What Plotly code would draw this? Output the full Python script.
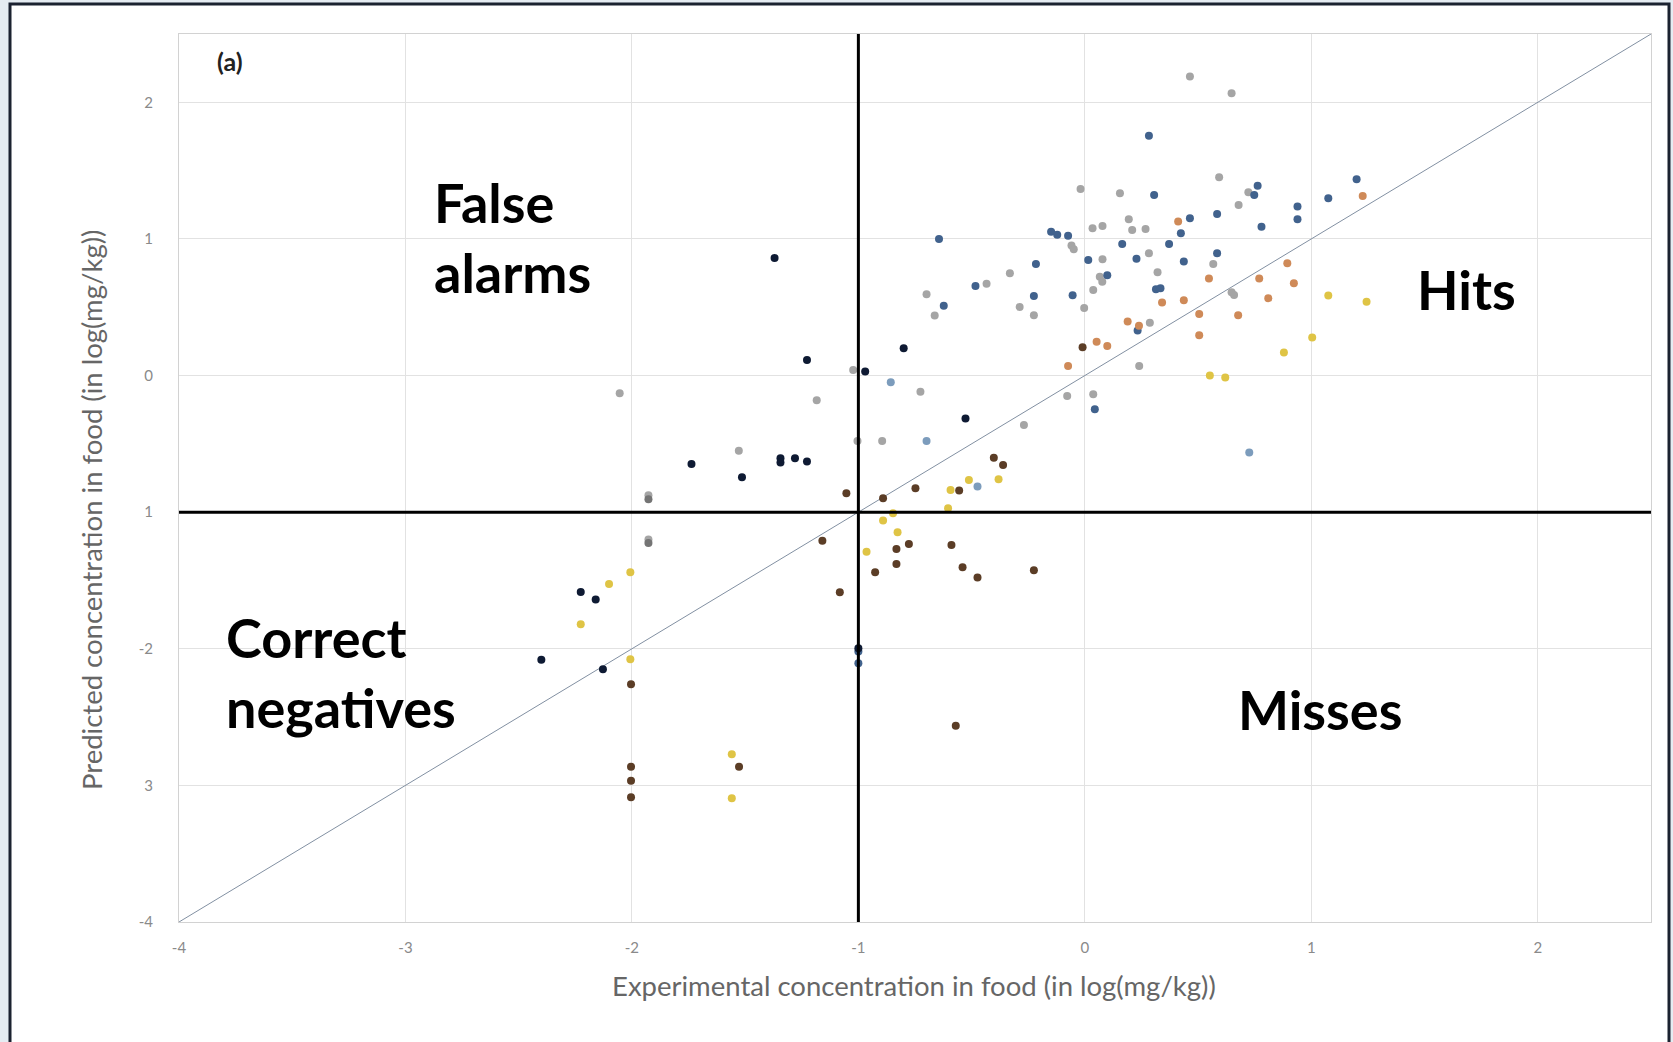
import plotly.graph_objects as go

# ---------------- data (log10 mg/kg) ----------------
navy_x = [-1.37, -1.227, -0.97, -0.80, -0.527, -1.737, -1.344, -1.344, -1.28, -1.227,
          -1.514, -2.226, -2.16, -2.40, -2.128, -1.0]
navy_y = [0.86, 0.114, 0.03, 0.20, -0.315, -0.647, -0.605, -0.637, -0.605, -0.63,
          -0.745, -1.584, -1.64, -2.08, -2.15, -1.996]

blue_x = [-0.644, -0.623, -0.483, -0.216, -0.225, -0.054, -0.149, -0.122, -0.074, 0.015,
          0.099, 0.283, 0.306, 0.763, 0.748, 1.2, 1.075, 0.939, 0.939, 0.78,
          0.584, 0.464, 0.424, 0.372, 0.165, 0.228, 0.437, 0.584, 0.314, 0.334,
          0.233, 0.044, -1.0, -1.0]
blue_y = [1.0, 0.51, 0.656, 0.817, 0.583, 0.588, 1.053, 1.03, 1.024, 0.846,
          0.734, 1.756, 1.322, 1.39, 1.322, 1.437, 1.298, 1.237, 1.144, 1.09,
          1.183, 1.151, 1.042, 0.963, 0.963, 0.854, 0.834, 0.895, 0.632, 0.639,
          0.329, -0.247, -2.02, -2.106]

lightblue_x = [-0.857, -0.699, -0.474, 0.726]
lightblue_y = [-0.05, -0.479, -0.813, -0.564]

grey_x = [-0.019, 0.034, 0.078, -0.059, -0.049, 0.078, -0.331, 0.066, 0.077, -0.434,
          -0.699, -0.663, -0.288, -0.225, 0.037, -0.003, -0.726, -0.078, 0.037, -0.269,
          0.464, 0.648, 0.155, 0.593, 0.722, 0.679, 0.194, 0.209, 0.268, 0.283,
          0.567, 0.321, 0.648, 0.659, 0.287, 0.24, -1.023, -2.054, -1.184, -1.004,
          -0.895, -1.528, -1.927, -1.927]
grey_y = [1.366, 1.078, 1.095, 0.951, 0.925, 0.851, 0.749, 0.724, 0.687, 0.671,
          0.595, 0.439, 0.502, 0.441, 0.627, 0.495, -0.118, -0.149, -0.137, -0.362,
          2.188, 2.067, 1.334, 1.452, 1.342, 1.249, 1.144, 1.066, 1.073, 0.895,
          0.817, 0.756, 0.61, 0.59, 0.387, 0.07, 0.04, -0.13, -0.18, -0.48,
          -0.48, -0.55, -0.876, -1.20]

darkgrey_x = [-1.927, -1.927]
darkgrey_y = [-0.905, -1.225]

orange_x = [0.052, 0.099, -0.074, 1.227, 0.412, 0.548, 0.894, 0.923, 0.77, 0.81,
            0.677, 0.341, 0.437, 0.505, 0.505, 0.189, 0.239]
orange_y = [0.248, 0.217, 0.07, 1.315, 1.127, 0.71, 0.822, 0.676, 0.71, 0.566,
            0.441, 0.534, 0.551, 0.451, 0.295, 0.395, 0.365]

yellow_x = [1.075, 1.244, 1.004, 0.879, 0.552, 0.62, -0.512, -0.381, -0.593, -0.604,
            -0.847, -0.891, -0.827, -0.964, -2.101, -2.007, -2.226, -2.007, -1.559, -1.559]
yellow_y = [0.585, 0.541, 0.278, 0.168, 0.0, -0.015, -0.764, -0.759, -0.837, -0.972,
            -1.008, -1.062, -1.147, -1.29, -1.525, -1.44, -1.82, -2.077, -2.772, -3.095]

brown_x = [-0.01, -1.053, -0.891, -0.748, -0.555, -0.402, -0.361, -1.159, -0.832, -0.832,
           -0.926, -0.777, -0.589, -0.54, -0.474, -0.225, -1.082, -2.004, -2.004, -2.004,
           -2.004, -1.527, -0.57]
brown_y = [0.207, -0.862, -0.898, -0.825, -0.842, -0.601, -0.654, -1.21, -1.27, -1.38,
           -1.44, -1.233, -1.24, -1.404, -1.479, -1.426, -1.586, -2.26, -2.863, -2.966,
           -3.087, -2.863, -2.563]

AXIS_MIN, AXIS_MAX = -4, 2.5
THRESHOLD = -1
tick_vals = [-4, -3, -2, -1, 0, 1, 2]
x_tick_text = ["-4", "-3", "-2", "-1", "0", "1", "2"]
y_tick_text = ["-4", "3", "-2", "1", "0", "1", "2"]

# ---------------- figure ----------------
W, H = 1673, 1042
L, R, T, B = 179, 22, 34, 120
PW, PH = W - L - R, H - T - B


def px(x):
    return (x - L) / PW


def py(y):
    return (H - B - y) / PH


FONT = "Lato, 'Open Sans', sans-serif"

fig = go.Figure()

# 1:1 line
fig.add_trace(go.Scatter(x=[AXIS_MIN, AXIS_MAX], y=[AXIS_MIN, AXIS_MAX], mode="lines",
                         line=dict(color="#8290a2", width=1), hoverinfo="skip"))

series = [
    (grey_x, grey_y, "#a5a5a5"),
    (darkgrey_x, darkgrey_y, "#747474"),
    (lightblue_x, lightblue_y, "#7c9cbc"),
    (blue_x, blue_y, "#41628d"),
    (orange_x, orange_y, "#cf8a58"),
    (yellow_x, yellow_y, "#dfc445"),
    (brown_x, brown_y, "#5b3d26"),
    (navy_x, navy_y, "#0e1a33"),
]
for sx, sy, col in series:
    fig.add_trace(go.Scatter(x=sx, y=sy, mode="markers",
                             marker=dict(size=8, color=col, line=dict(width=0))))

# threshold lines
fig.add_shape(type="line", xref="x", yref="y", x0=THRESHOLD, x1=THRESHOLD,
              y0=AXIS_MIN, y1=AXIS_MAX, line=dict(color="black", width=3), layer="above")
fig.add_shape(type="line", xref="x", yref="y", x0=AXIS_MIN, x1=AXIS_MAX,
              y0=THRESHOLD, y1=THRESHOLD, line=dict(color="black", width=3), layer="above")

# outer frame
fig.add_shape(type="rect", xref="paper", yref="paper", x0=px(10), x1=px(1669),
              y0=py(1080), y1=py(4), line=dict(color="#1b2230", width=3),
              fillcolor="white", layer="below")

ann_font = dict(family=FONT, size=54, color="black")
labels = [
    ("<b>False<br>alarms</b>", 432, 237),
    ("<b>Correct<br>negatives</b>", 224, 672),
    ("<b>Hits</b>", 1415, 289),
    ("<b>Misses</b>", 1236, 709),
]
for txt, xx, yy in labels:
    fig.add_annotation(text=txt, x=px(xx), y=py(yy), xref="paper", yref="paper",
                       xanchor="left", yanchor="middle", showarrow=False,
                       align="left", font=ann_font)
fig.add_annotation(text="<b>(a)</b>", x=px(215), y=py(61), xref="paper", yref="paper",
                   xanchor="left", yanchor="middle", showarrow=False,
                   font=dict(family=FONT, size=25, color="#222222"))

# axis titles
title_font = dict(family=FONT, size=27.5, color="#666666")
fig.add_annotation(text="Experimental concentration in food (in log(mg/kg))",
                   x=px(914), y=py(985), xref="paper", yref="paper",
                   xanchor="center", yanchor="middle", showarrow=False, font=title_font)
fig.add_annotation(text="Predicted concentration in food (in log(mg/kg))",
                   x=px(91), y=py(510), xref="paper", yref="paper", textangle=-90,
                   xanchor="center", yanchor="middle", showarrow=False, font=title_font)

axis_common = dict(range=[AXIS_MIN, AXIS_MAX], tickvals=tick_vals, showgrid=True,
                   gridcolor="#e2e2e2", gridwidth=1, zeroline=False, showline=True,
                   linecolor="#d2d2d2", linewidth=1, mirror=True, ticks="",
                   tickfont=dict(family=FONT, size=15, color="#8a8a8a"))

fig.update_layout(
    width=W, height=H,
    margin=dict(l=L, r=R, t=T, b=B),
    paper_bgcolor="#e5ecf2",
    plot_bgcolor="white",
    showlegend=False,
    font=dict(family=FONT),
    xaxis=dict(**axis_common, ticktext=x_tick_text, ticklabelstandoff=12),
    yaxis=dict(**axis_common, ticktext=y_tick_text, ticklabelstandoff=22),
)

fig.write_html("out.html", config={"displayModeBar": False},
               post_script="document.body.style.margin='0px';")
